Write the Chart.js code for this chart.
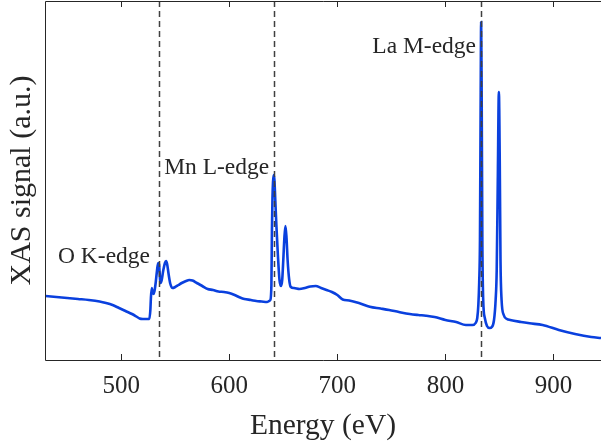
<!DOCTYPE html>
<html>
<head>
<meta charset="utf-8">
<script src="https://cdn.jsdelivr.net/npm/chart.js@4/dist/chart.umd.min.js"></script>
<style>
  html, body { margin: 0; padding: 0; background: #ffffff; }
  #wrap { width: 601px; height: 444px; position: relative; }
  canvas { display: block; }
</style>
</head>
<body>
<div id="wrap"><canvas id="xas" width="601" height="444"></canvas></div>
<script>
// Photon energy (eV)
const energy = [
  430, 440, 450, 460, 470, 480, 486, 492, 498, 504, 510, 514, 517, 520, 524, 526,
  527, 527.5, 528.3, 529, 530, 531, 532, 533, 534.2, 535, 536, 536.5, 537.5, 539,
  540.5, 541.5, 542.5, 544, 545.5, 547.5, 550, 553, 556, 560, 563, 566, 570, 575,
  580, 585, 590, 595, 600, 605, 610, 614, 620, 625, 630, 635, 637, 638, 639, 639.5,
  640, 640.5, 641.2, 641.8, 642.6, 643.6, 645, 646.5, 648, 649, 650, 651, 652, 653,
  654, 655.5, 657, 660, 665, 670, 675, 680, 685, 690, 695, 700, 705, 711, 720, 730,
  740, 748, 757, 767, 775, 782, 790, 800, 810, 819, 825, 828, 829.5, 830.5, 831.3,
  832, 832.6, 833.1, 833.6, 834.2, 835, 836.5, 838.5, 841, 843, 845, 846.5, 847.5,
  848.5, 849.5, 850.3, 851, 852, 854, 857, 860, 870, 878, 890, 905, 920, 935, 944
];

// XAS signal (arbitrary units)
const signal = [
  0.64, 0.63, 0.62, 0.61, 0.60, 0.585, 0.57, 0.55, 0.52, 0.49, 0.46, 0.435, 0.415, 0.41, 0.41, 0.41,
  0.50, 0.62, 0.72, 0.68, 0.66, 0.70, 0.78, 0.88, 0.97, 0.96, 0.80, 0.77, 0.80, 0.90,
  0.97, 0.99, 0.96, 0.85, 0.76, 0.72, 0.73, 0.75, 0.77, 0.79, 0.80, 0.795, 0.77, 0.74,
  0.71, 0.70, 0.685, 0.68, 0.67, 0.65, 0.625, 0.61, 0.60, 0.59, 0.585, 0.58, 0.59, 0.60, 0.75, 1.30,
  1.62, 1.78, 1.85, 1.80, 1.60, 1.35, 1.05, 0.80, 0.74, 0.80, 1.00, 1.22, 1.34, 1.22,
  1.00, 0.80, 0.73, 0.72, 0.71, 0.72, 0.735, 0.74, 0.72, 0.70, 0.68, 0.65, 0.605, 0.595, 0.57, 0.533,
  0.515, 0.50, 0.48, 0.46, 0.45, 0.443, 0.43, 0.40, 0.38, 0.35, 0.35, 0.37, 0.42, 0.55, 0.78,
  1.20, 2.50, 3.38, 2.60, 1.20, 0.60, 0.42, 0.34, 0.32, 0.33, 0.40, 0.60, 0.90,
  1.80, 2.68, 2.00, 1.00, 0.60, 0.45, 0.41, 0.40, 0.38, 0.367, 0.35, 0.30, 0.26, 0.23, 0.22
];

// Energy axis tick values
const energyTicks = [500, 600, 700, 800, 900];

// Absorption edges marked with dashed lines
const edgeNames = ['O K-edge', 'Mn L-edge', 'La M-edge'];
const edgeEnergies = [535, 641.6, 833];

const INK = '#262626';
const SERIF = '"Liberation Serif", "DejaVu Serif", serif';

// Edge label placement: vertical position in signal units, horizontal gap (px) left of the dashed line
const edgeLabelY = [1.03, 1.92, 3.13];
const edgeLabelGap = [9, 5, 5];

const framePlugin = {
  id: 'frameAndEdges',
  afterDatasetsDraw(chart) {
    const { ctx, chartArea: a, scales: { x, y } } = chart;
    ctx.save();

    // dashed edge markers
    ctx.strokeStyle = '#404040';
    ctx.lineWidth = 1.5;
    ctx.setLineDash([6, 4]);
    edgeEnergies.forEach(e => {
      const px = Math.round(x.getPixelForValue(e)) + 0.5;
      ctx.beginPath();
      ctx.moveTo(px, a.top);
      ctx.lineTo(px, a.bottom);
      ctx.stroke();
    });
    ctx.setLineDash([]);

    // edge labels
    ctx.fillStyle = INK;
    ctx.font = '23.5px ' + SERIF;
    ctx.textAlign = 'right';
    ctx.textBaseline = 'middle';
    edgeNames.forEach((name, i) => {
      const px = x.getPixelForValue(edgeEnergies[i]) - edgeLabelGap[i];
      const py = y.getPixelForValue(edgeLabelY[i]);
      ctx.fillText(name, px, py);
    });

    // axes box (left, top, bottom) with inward ticks
    ctx.strokeStyle = INK;
    ctx.lineWidth = 1;
    ctx.beginPath();
    ctx.moveTo(a.right + 1, a.top + 0.5);
    ctx.lineTo(a.left + 0.5, a.top + 0.5);
    ctx.lineTo(a.left + 0.5, a.bottom + 0.5);
    ctx.lineTo(a.right + 1, a.bottom + 0.5);
    ctx.stroke();
    ctx.beginPath();
    x.ticks.forEach(t => {
      const px = Math.round(x.getPixelForValue(t.value)) + 0.5;
      ctx.moveTo(px, a.bottom);
      ctx.lineTo(px, a.bottom - 6);
      ctx.moveTo(px, a.top);
      ctx.lineTo(px, a.top + 6);
    });
    ctx.stroke();
    ctx.restore();
  }
};

new Chart(document.getElementById('xas'), {
  type: 'line',
  data: {
    datasets: [{
      data: energy.map((e, i) => ({ x: e, y: signal[i] })),
      borderColor: '#0a40de',
      borderWidth: 2.6,
      pointRadius: 0,
      fill: false,
      cubicInterpolationMode: 'monotone'
    }]
  },
  options: {
    responsive: false,
    animation: false,
    devicePixelRatio: 1,
    layout: { padding: { top: 1, left: 0, right: 0, bottom: 0 } },
    plugins: { legend: { display: false }, tooltip: { enabled: false } },
    scales: {
      x: {
        type: 'linear',
        min: 429.5,
        max: 944,
        afterBuildTicks: s => { s.ticks = energyTicks.map(v => ({ value: v })); },
        afterFit: s => { s.height = 84; },
        grid: { display: false, drawTicks: false },
        border: { display: false },
        ticks: {
          color: INK,
          font: { family: SERIF, size: 25 },
          padding: 11,
          maxRotation: 0,
          autoSkip: false
        },
        title: {
          display: true,
          text: 'Energy (eV)',
          color: INK,
          font: { family: SERIF, size: 29.5 },
          padding: { top: 0, bottom: 0 }
        }
      },
      y: {
        min: 0,
        max: 3.59,
        afterFit: s => { s.width = 45; },
        grid: { display: false, drawTicks: false },
        border: { display: false },
        ticks: { display: false },
        title: {
          display: true,
          text: 'XAS signal (a.u.)',
          color: INK,
          font: { family: SERIF, size: 30 },
          padding: { top: 4, bottom: 0 }
        }
      }
    }
  },
  plugins: [framePlugin]
});
</script>
</body>
</html>
